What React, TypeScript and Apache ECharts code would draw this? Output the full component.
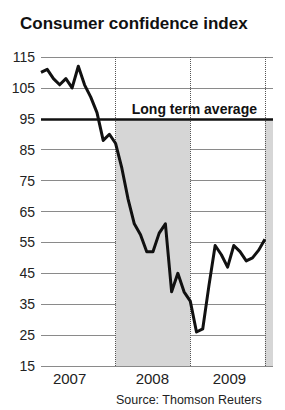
import React, { useEffect, useRef } from "react";
import * as echarts from "echarts";

// monthly index: 0 = Jan 2007 ... 36 = Jan 2010
const confidence = [
  110, 111, 108, 106, 108, 105, 112, 106, 102, 97, 88, 90,
  87, 79, 69, 61, 57.5, 52, 52, 58, 61, 39, 45, 39,
  36, 26, 27, 41, 54, 51, 47, 54, 52, 49, 50, 52.5, 56,
];
const years = ["2007", "2008", "2009"];
const yearLabelAt = [4.6, 17.9, 30.3];
const yearBounds = [12, 24, 36];
const recessionBand = [12, 24];
const rightStrip = [36, 37.3];
const longTermAverage = 95;
const yTicks = { min: 15, max: 115, interval: 10 };

const FONT = "Liberation Sans, Arial, sans-serif";

export default function App() {
  const ref = useRef<HTMLDivElement>(null);
  useEffect(() => {
    document.body.style.margin = "0";
    const chart = echarts.init(ref.current!, null, { renderer: "svg" });
    const data = confidence.map((v, i) => [i, v]);
    chart.setOption({
      animation: false,
      backgroundColor: "#ffffff",
      textStyle: { fontFamily: FONT },
      title: [
        {
          text: "Consumer confidence index",
          left: 15,
          top: 10,
          textStyle: { fontSize: 17, fontWeight: "bold", color: "#111", fontFamily: FONT },
        },
        {
          text: "Source: Thomson Reuters",
          left: 116,
          top: 393,
          padding: 0,
          textStyle: { fontSize: 12.5, fontWeight: "normal", color: "#222", fontFamily: FONT, lineHeight: 13 },
        },
      ],
      grid: { left: 41, right: 12, top: 57, bottom: 44, containLabel: false },
      xAxis: {
        type: "value",
        min: 0,
        max: rightStrip[1],
        splitLine: { show: false },
        axisLine: { show: false },
        axisTick: { show: false },
        axisLabel: {
          customValues: yearLabelAt,
          formatter: (v: number) => {
            const i = yearLabelAt.findIndex((p) => Math.abs(p - v) < 1e-6);
            return i >= 0 ? years[i] : "";
          },
          fontSize: 15,
          color: "#222",
          margin: 5,
          fontFamily: FONT,
        },
      },
      yAxis: {
        type: "value",
        min: yTicks.min,
        max: yTicks.max,
        interval: yTicks.interval,
        axisLine: { show: false },
        axisTick: { show: false },
        splitLine: { lineStyle: { color: "#8a8a8a", width: 1 } },
        axisLabel: { fontSize: 14, color: "#222", margin: 6, fontFamily: FONT },
      },
      series: [
        {
          type: "line",
          data,
          symbol: "none",
          z: 5,
          lineStyle: { color: "#111", width: 3, join: "round" },
          markArea: {
            silent: true,
            itemStyle: { color: "#d6d6d6" },
            data: [
              [
                { xAxis: recessionBand[0], yAxis: yTicks.min },
                { xAxis: recessionBand[1], yAxis: longTermAverage },
              ],
              [
                { xAxis: rightStrip[0], yAxis: yTicks.min },
                { xAxis: rightStrip[1], yAxis: longTermAverage },
              ],
            ],
          },
          markLine: {
            silent: true,
            symbol: "none",
            data: [
              ...yearBounds.map((x) => ({
                xAxis: x,
                lineStyle: { type: "dotted", color: "#555", width: 1 },
                label: { show: false },
              })),
              {
                yAxis: longTermAverage,
                lineStyle: { type: "solid", color: "#111", width: 2.5 },
                label: {
                  show: true,
                  position: "insideEndTop",
                  formatter: "Long term average",
                  fontSize: 14,
                  fontWeight: "bold",
                  color: "#111",
                  fontFamily: FONT,
                  distance: [16, 3],
                },
              },
            ],
          },
        },
      ],
    });
    return () => chart.dispose();
  }, []);
  return <div ref={ref} style={{ width: 285, height: 410 }} />;
}
